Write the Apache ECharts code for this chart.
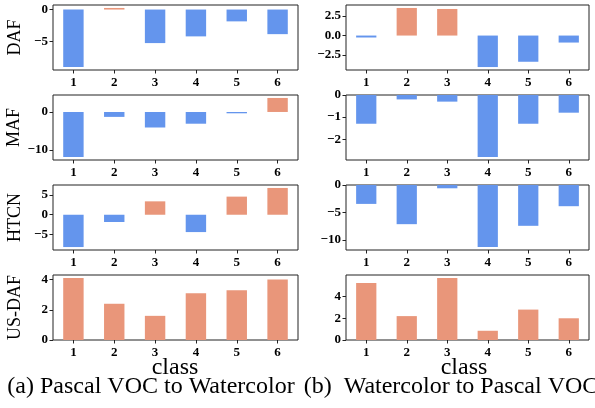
<!DOCTYPE html>
<html><head><meta charset="utf-8">
<script src="https://cdn.jsdelivr.net/npm/echarts@6/dist/echarts.min.js"></script>
<style>html,body{margin:0;padding:0;background:#fff}#c{width:595px;height:408px}</style>
</head><body><div id="c"></div>
<script>
const categories = ['1','2','3','4','5','6'];
// Left column: Pascal VOC to Watercolor
const dafA   = [-9.0, 0.25, -5.25, -4.2, -1.85, -3.85];
const mafA   = [-11.9, -1.3, -4.1, -3.1, -0.35, 3.7];
const htcnA  = [-8.2, -1.85, 3.4, -4.4, 4.6, 6.8];
const usdafA = [4.1, 2.4, 1.6, 3.1, 3.3, 4.0];
// Right column: Watercolor to Pascal VOC
const dafB   = [-0.25, 3.55, 3.42, -4.05, -3.37, -0.9];
const mafB   = [-1.3, -0.2, -0.3, -2.8, -1.3, -0.8];
const htcnB  = [-3.45, -7.15, -0.6, -11.3, -7.45, -3.87];
const usdafB = [5.25, 2.2, 5.7, 0.85, 2.8, 2.0];
// Tick values
const ticksDafA = [-5, 0];
const ticksMafA = [-10, 0];
const ticksHtcnA = [-5, 0, 5];
const ticksUsdafA = [0, 2, 4];
const ticksDafB = [-2.5, 0, 2.5];
const ticksMafB = [-2, -1, 0];
const ticksHtcnB = [-10, -5, 0];
const ticksUsdafB = [0, 2, 4];
const yNames = ['DAF', 'MAF', 'HTCN', 'US-DAF'];
const captionA = '(a) Pascal VOC to Watercolor';
const captionB = '(b)  Watercolor to Pascal VOC';
const xName = 'class';

const BLUE = '#6495ED', ORANGE = '#E9967A';
const FONT = '"Liberation Serif", "Times New Roman", serif';

function range(d) {
  const dmin = Math.min(...d), dmax = Math.max(...d);
  const m = (Math.max(0, dmax) - Math.min(0, dmin)) * 0.05;
  const lo = dmin < 0 ? dmin - m : 0;
  const hi = dmax > 0 ? dmax + m : 0;
  return [lo, hi];
}
function fmt(dec) {
  return v => (v < 0 ? '\u2212' : '') + Math.abs(v).toFixed(dec);
}

const panels = [
  {d: dafA, t: ticksDafA, col: 0, row: 0, dec: 0},
  {d: mafA, t: ticksMafA, col: 0, row: 1, dec: 0},
  {d: htcnA, t: ticksHtcnA, col: 0, row: 2, dec: 0},
  {d: usdafA, t: ticksUsdafA, col: 0, row: 3, dec: 0},
  {d: dafB, t: ticksDafB, col: 1, row: 0, dec: 1},
  {d: mafB, t: ticksMafB, col: 1, row: 1, dec: 0},
  {d: htcnB, t: ticksHtcnB, col: 1, row: 2, dec: 0},
  {d: usdafB, t: ticksUsdafB, col: 1, row: 3, dec: 0},
];
const colL = [53, 346], colW = [245, 243];
const rowT = [5, 95, 185, 275], rowH = 65;

const grid = [], xAxis = [], yAxis = [], series = [];
panels.forEach((p, i) => {
  grid.push({left: colL[p.col], top: rowT[p.row], width: colW[p.col], height: rowH,
    show: true, borderColor: '#222', borderWidth: 1, backgroundColor: '#fff'});
  xAxis.push({type: 'category', gridIndex: i, data: categories, position: 'bottom',
    axisLine: {show: false, onZero: false},
    axisTick: {show: true, alignWithLabel: true, length: 3.5, lineStyle: {color: '#222'}},
    axisLabel: {fontFamily: FONT, fontWeight: 'bold', fontSize: 13, color: '#000', margin: 6},
    splitLine: {show: false}});
  const r = range(p.d);
  yAxis.push({type: 'value', gridIndex: i, min: r[0], max: r[1],
    name: p.col === 0 ? yNames[p.row] : '', nameLocation: 'middle', nameGap: 29,
    nameTextStyle: {fontFamily: FONT, fontSize: 18, color: '#000'},
    axisLine: {show: false, onZero: false},
    axisTick: {show: true, length: 3.5, customValues: p.t, lineStyle: {color: '#222'}},
    axisLabel: {show: true, customValues: p.t, formatter: fmt(p.dec), fontFamily: FONT,
      fontWeight: 'bold', fontSize: 13, color: '#000', margin: 5},
    splitLine: {show: false}});
  series.push({type: 'bar', xAxisIndex: i, yAxisIndex: i, data: p.d, barWidth: '50%',
    itemStyle: {color: q => q.value >= 0 ? ORANGE : BLUE}, silent: true, animation: false});
});

const chart = echarts.init(document.getElementById('c'), null, {renderer: 'canvas'});
chart.setOption({
  backgroundColor: '#fff',
  animation: false,
  grid, xAxis, yAxis, series,
  graphic: [
    {type: 'text', x: 175, y: 368, style: {text: xName, font: '24px ' + FONT, fill: '#000', textAlign: 'center', textVerticalAlign: 'middle'}},
    {type: 'text', x: 464, y: 368, style: {text: xName, font: '24px ' + FONT, fill: '#000', textAlign: 'center', textVerticalAlign: 'middle'}},
    {type: 'text', x: 151, y: 387, style: {text: captionA, font: '24px ' + FONT, fill: '#000', textAlign: 'center', textVerticalAlign: 'middle'}},
    {type: 'text', x: 451, y: 387, style: {text: captionB, font: '24px ' + FONT, fill: '#000', textAlign: 'center', textVerticalAlign: 'middle'}},
  ]
});
</script></body></html>
